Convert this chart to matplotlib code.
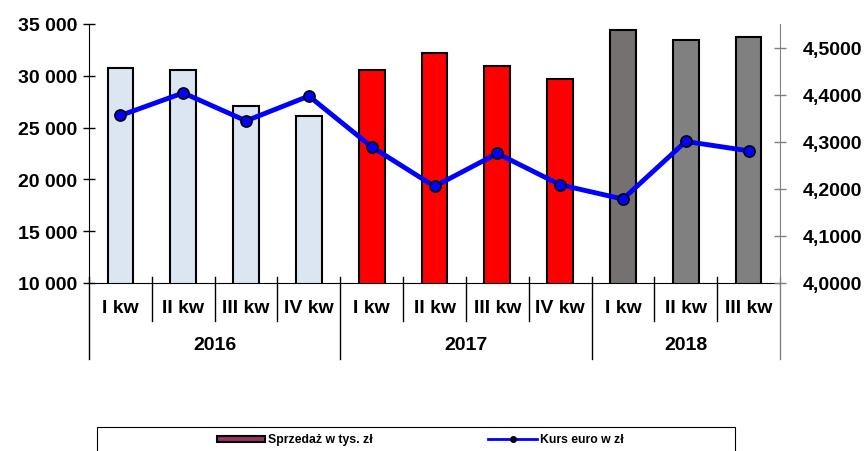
import matplotlib.pyplot as plt
from matplotlib.patches import Rectangle
from matplotlib.lines import Line2D
from matplotlib.transforms import blended_transform_factory
import numpy as np

plt.rcParams['font.family'] = ['Liberation Sans', 'DejaVu Sans']
plt.rcParams['font.weight'] = 'bold'

# data
years = ["2016", "2017", "2018"]
quarters = ["I kw", "II kw", "III kw", "IV kw", "I kw", "II kw", "III kw", "IV kw", "I kw", "II kw", "III kw"]
year_of = [0, 0, 0, 0, 1, 1, 1, 1, 2, 2, 2]
sales = [30750, 30540, 27120, 26160, 30590, 32230, 30980, 29700, 34390, 33490, 33780]
euro = [4.3557, 4.4037, 4.3443, 4.3970, 4.2891, 4.2051, 4.2751, 4.2086, 4.1782, 4.3006, 4.2807]
bar_colors = ["#DCE6F2"] * 4 + ["#FF0000"] * 4 + ["#767171", "#808080", "#808080"]

fig = plt.figure(figsize=(8.65, 4.52), dpi=100)
ax = fig.add_axes([89/865, 1-284/452, (780-89)/865, (284-25)/452])
ax2 = ax.twinx()

x = np.arange(len(sales))
ax.bar(x, sales, width=0.41, color=bar_colors, edgecolor="black", linewidth=1.5, zorder=2)
ax.set_xlim(-0.5, len(sales) - 0.5)
ax.set_ylim(10000, 35000)
ax.set_yticks(np.arange(10000, 35001, 5000))
ax.set_yticklabels(["{:,}".format(v).replace(",", " ") for v in range(10000, 35001, 5000)], fontsize=14)
ax.tick_params(axis='y', direction='inout', length=8.5, width=1, pad=4)
ax.set_xticks([])

ax2.plot(x, euro, color="#0000FF", linewidth=3.5, marker="o", markersize=8,
         markerfacecolor="#0000FF", markeredgecolor="black", markeredgewidth=1.2, zorder=3)
ax2.set_ylim(4.0, 4.55)
ax2.set_yticks(np.arange(4.0, 4.51, 0.1))
ax2.set_yticklabels(["{:.4f}".format(v).replace(".", ",") for v in np.arange(4.0, 4.51, 0.1)], fontsize=14)
ax2.tick_params(axis='y', direction='inout', length=9, width=1, pad=12, color="#808080")

for a in (ax, ax2):
    a.spines['top'].set_visible(False)
ax2.spines['left'].set_visible(False)
ax2.spines['bottom'].set_visible(False)
ax2.spines['right'].set_color("#808080")
ax.spines['right'].set_visible(False)

# multi-level category axis
tr = blended_transform_factory(ax.transData, ax.transAxes)
h = (284 - 25) / 452 * 4.52 * 100  # axes height in px
def ay(ypix):
    return (284 - ypix) / h

for i, q in enumerate(quarters):
    ax.text(i, ay(309), q, transform=tr, ha="center", va="center", fontsize=14)
for k, yr in enumerate(years):
    idx = [i for i in range(len(quarters)) if year_of[i] == k]
    ax.text(np.mean(idx), ay(346), yr, transform=tr, ha="center", va="center", fontsize=14)

for b in np.arange(-0.5, len(quarters)):
    left_i = int(b - 0.5) if b > -0.5 else None
    right_i = int(b + 0.5) if b + 0.5 < len(quarters) else None
    if left_i is None or right_i is None or year_of[left_i] != year_of[right_i]:
        bottom = ay(360)
    else:
        bottom = ay(322)
    col = "#808080" if right_i is None else "black"
    ax.plot([b, b], [ay(278), bottom], transform=tr, color=col, linewidth=1, clip_on=False)

# legend box
fig.patches.append(Rectangle((97/865, -0.05), (735-97)/865, (1-428/452) + 0.05,
                             transform=fig.transFigure, facecolor="white", edgecolor="black", linewidth=0.8))
ly = 1 - 440/452
fig.patches.append(Rectangle((217/865, ly - 3/452), 48/865, 6/452, transform=fig.transFigure,
                             facecolor="#993366", edgecolor="black", linewidth=1.5))
fig.text(268/865, ly, "Sprzedaż w tys. zł", fontsize=8.8, va="center", ha="left")
fig.lines.append(Line2D([488/865, 537/865], [ly, ly], transform=fig.transFigure, color="#0000FF",
                        linewidth=2, marker=None))
fig.lines.append(Line2D([512.5/865], [ly], transform=fig.transFigure, color="#0000FF", marker="o",
                        markersize=4, markerfacecolor="#000033", markeredgecolor="black"))
fig.text(540/865, ly, "Kurs euro w zł", fontsize=8.8, va="center", ha="left")

fig.savefig("out.png", dpi=100)
